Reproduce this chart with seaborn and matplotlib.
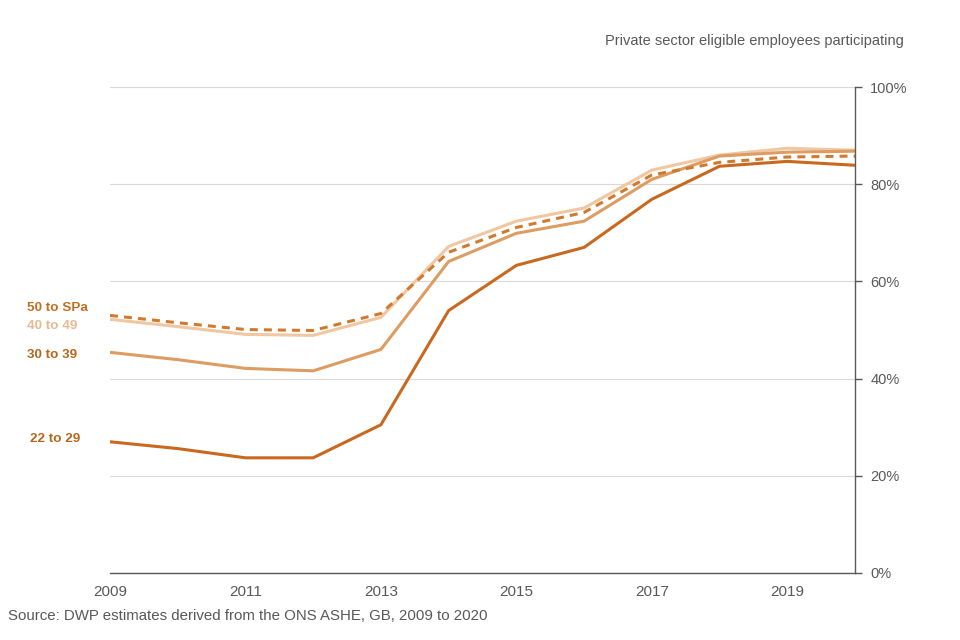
import pandas as pd
import matplotlib
matplotlib.use("Agg")
import matplotlib.pyplot as plt
import matplotlib.ticker as mticker
import seaborn as sns

# Данные
years = list(range(2009, 2021))
age_groups = ["22 to 29", "30 to 39", "40 to 49", "50 to SPa"]
p_22_29 = [27.0, 25.6, 23.7, 23.7, 30.5, 54.0, 63.3, 67.0, 76.9, 83.7, 84.7, 83.9]
p_30_39 = [45.4, 43.9, 42.1, 41.6, 46.0, 64.1, 69.9, 72.4, 81.0, 85.8, 86.6, 86.8]
p_40_49 = [52.2, 50.7, 49.1, 48.9, 52.6, 67.2, 72.4, 75.1, 82.9, 86.0, 87.4, 87.0]
p_50_spa = [53.0, 51.5, 50.1, 49.9, 53.4, 66.0, 71.1, 74.2, 81.9, 84.5, 85.6, 85.8]

series = dict(zip(age_groups, [p_22_29, p_30_39, p_40_49, p_50_spa]))
df = pd.DataFrame([
    {"year": y, "group": g, "value": v}
    for g, vals in series.items() for y, v in zip(years, vals)
])

line_colors = {"22 to 29": "#c8691f", "30 to 39": "#dc9c62",
               "40 to 49": "#f0c7a0", "50 to SPa": "#d07a30"}
label_colors = {"22 to 29": "#b8661c", "30 to 39": "#b8661c",
                "40 to 49": "#e2bb94", "50 to SPa": "#c06f20"}
# позиции подписей слева (в пикселях)
label_px = {"22 to 29": (30, 439), "30 to 39": (27, 355),
            "40 to 49": (27, 326), "50 to SPa": (27, 308)}

sns.set_style("white")
plt.rcParams["font.family"] = ["Liberation Sans", "DejaVu Sans"]

fig = plt.figure(figsize=(9.6, 6.4), dpi=100)
ax = fig.add_axes([0.1146, 0.1047, 0.776, 0.7593])

for g in ["40 to 49", "30 to 39", "22 to 29", "50 to SPa"]:
    sub = df[df["group"] == g]
    sns.lineplot(data=sub, x="year", y="value", ax=ax, color=line_colors[g],
                 linewidth=2.2)
    if g == "50 to SPa":
        ax.lines[-1].set_dashes([2.6, 2.0])

ax.set_xlim(2009, 2020)
ax.set_ylim(0, 100)
ax.set_xticks([2009, 2011, 2013, 2015, 2017, 2019])
ax.set_yticks([0, 20, 40, 60, 80, 100])
ax.yaxis.set_major_formatter(mticker.FuncFormatter(lambda v, p: f"{v:.0f}%"))
ax.yaxis.tick_right()
ax.grid(axis="y", color="#d9d9d9", linewidth=0.8)
ax.set_axisbelow(True)
for s in ["top", "left"]:
    ax.spines[s].set_visible(False)
for s in ["right", "bottom"]:
    ax.spines[s].set_color("#595959")
    ax.spines[s].set_linewidth(1.0)
ax.tick_params(axis="both", colors="#595959", labelcolor="#595959", labelsize=10.5,
               length=5, width=1, direction="out")
ax.tick_params(axis="x", labelsize=11)
ax.tick_params(axis="y", pad=6)
ax.set_xlabel("")
ax.set_ylabel("")

for g in age_groups:
    px, py = label_px[g]
    fig.text(px / 960, 1 - py / 640, g, color=label_colors[g], fontsize=9.7,
             fontweight="bold", va="center", ha="left")

fig.text(904 / 960, 1 - 41 / 640, "Private sector eligible employees participating",
         color="#595959", fontsize=10.5, ha="right", va="center")
fig.text(8 / 960, 1 - 616 / 640, "Source: DWP estimates derived from the ONS ASHE, GB, 2009 to 2020",
         color="#595959", fontsize=10.8, ha="left", va="center")

fig.savefig("out.png", dpi=100)
